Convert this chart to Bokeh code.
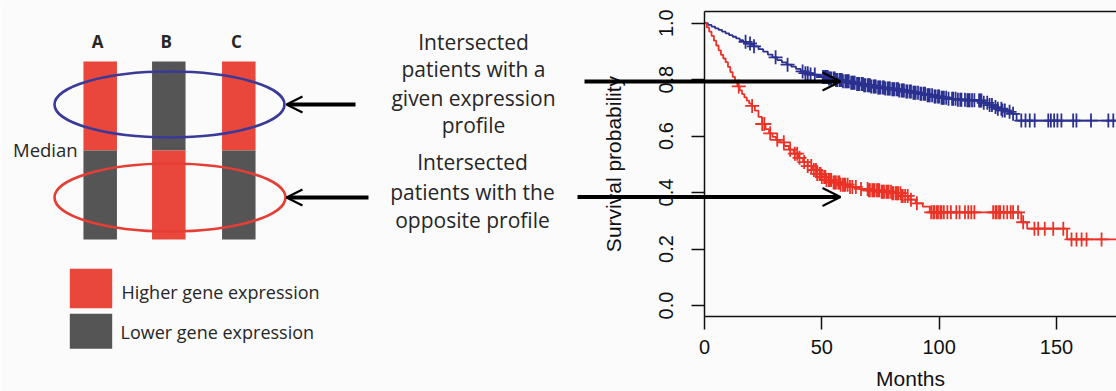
import numpy as np
from bokeh.plotting import figure
from bokeh.models import (Range1d, LinearAxis, FixedTicker, Arrow, OpenHead,
                          NumeralTickFormatter)
from bokeh.core.properties import value
from bokeh.embed import file_html
from bokeh.resources import INLINE

# ---------------- data ----------------
genes = ["A", "B", "C"]
given_profile = ["Higher", "Lower", "Higher"]          # level above the median line
legend_labels = ["Higher gene expression", "Lower gene expression"]
median_label = "Median"
group1_text = ["Intersected", "patients with a", "given expression", "profile"]
group2_text = ["Intersected", "patients with the", "opposite profile"]

# Kaplan-Meier: given profile (blue)
blue_time = [0, 1.5, 3, 4.5, 6, 7.5, 9, 10.5, 12, 13.5, 15, 16.5, 18, 19.5, 21, 23, 25, 27,
             29, 31, 33, 35, 37, 39, 41, 43, 45, 47.5, 50, 53, 56, 59, 62, 65, 68, 71, 74,
             77, 80, 83, 86, 89, 92, 95, 98, 101, 104, 108, 112, 116, 119, 121, 123, 125,
             127, 129, 131, 133, 180]
blue_surv = [1.0, 0.994, 0.988, 0.982, 0.976, 0.970, 0.964, 0.958, 0.952, 0.946, 0.940,
             0.934, 0.928, 0.923, 0.918, 0.908, 0.899, 0.889, 0.879, 0.869, 0.861, 0.853,
             0.846, 0.838, 0.829, 0.823, 0.818, 0.814, 0.809, 0.804, 0.799, 0.794, 0.789,
             0.785, 0.780, 0.776, 0.772, 0.769, 0.766, 0.762, 0.758, 0.754, 0.750, 0.745,
             0.740, 0.736, 0.732, 0.729, 0.727, 0.726, 0.718, 0.710, 0.703, 0.697, 0.691,
             0.686, 0.679, 0.655, 0.655]
blue_censor = [17.5, 19.4, 21.1, 30.3, 35.4, 41.8, 43, 44, 45.2, 47,
               50.5, 51, 51.5, 52, 52.5, 53, 53.5, 54, 55, 55.5, 56, 56.5, 57.5, 58, 58.5,
               59, 60, 60.5, 61, 61.5, 62.5, 63, 63.5, 64, 65, 65.5, 66, 67, 67.5, 68, 68.5,
               69.5, 70, 70.5, 71, 72, 72.5, 73, 74, 74.5, 75, 76, 76.5, 77, 78, 78.5, 79,
               80, 80.5, 81, 82, 82.5, 83, 84, 84.5, 85, 86, 86.5, 87.5, 88, 89, 89.5, 90,
               91, 92, 92.5, 93.5, 94, 95, 95.5, 96, 97, 98, 98.5, 99.5, 100, 101, 101.5,
               102, 103, 104, 105.5, 106, 107, 108, 109, 109.5, 111, 112, 112.5, 113, 114,
               115, 117, 117.5, 118, 119, 120.5, 121.5, 122.5, 124, 125, 126.5, 127, 128,
               130, 131.5,
               135, 136.8, 138.6, 140.7, 146.5, 147.6, 149, 150.4, 152.1, 157.1, 158.5,
               164.7, 172.1, 174.2]

# Kaplan-Meier: opposite profile (red)
red_time = [0, 1, 2, 3, 4, 5, 6, 7, 8, 9, 10, 11, 12, 13, 14, 15, 16, 17, 18, 19, 20, 21.5,
            23, 24.5, 26, 27.5, 29, 30.5, 32, 34, 36, 38, 40, 42, 44, 46, 48, 50, 52, 55,
            58, 62, 66, 70, 75, 80, 84, 87, 90, 93, 96, 135, 137.5, 154.5, 180]
red_surv = [1.0, 0.985, 0.970, 0.955, 0.938, 0.921, 0.904, 0.888, 0.875, 0.862, 0.845,
            0.827, 0.810, 0.792, 0.776, 0.762, 0.749, 0.737, 0.726, 0.716, 0.707, 0.690,
            0.668, 0.643, 0.625, 0.610, 0.597, 0.587, 0.578, 0.565, 0.552, 0.538, 0.523,
            0.508, 0.494, 0.480, 0.466, 0.455, 0.445, 0.436, 0.428, 0.420, 0.413, 0.408,
            0.403, 0.398, 0.388, 0.375, 0.362, 0.350, 0.330, 0.295, 0.272, 0.234, 0.234]
red_censor = [14.6, 20.3, 24.6, 25.5, 28, 31, 33.8, 36.5, 38.5, 39.5, 40.5, 42.5, 44, 45.5,
              46.6, 47.5, 48, 49, 49.5, 50, 51, 51.5, 52, 53, 53.5, 54, 55, 55.5, 56, 57,
              57.5, 58, 59, 59.5, 60, 61, 62, 63, 64.5, 66.7, 69.5, 70, 70.5, 71.5, 72,
              72.5, 73.5, 74, 74.5, 75.5, 76, 76.5, 77.5, 78, 78.5, 79.5, 80, 80.5, 81.5,
              82, 82.5, 83.5, 84, 84.5, 85.5, 86.6, 88, 90.5, 96.6, 97.5, 98, 99, 99.5,
              100.5, 101, 102, 103.5, 105, 107.3, 108.7, 111, 112.4, 113.7, 115, 123, 124,
              124.5, 125.5, 126, 127.5, 129, 130.5, 131.5, 133.6, 135.8, 140.6, 142.2, 145,
              148.6, 152.9, 156.4, 158.5, 160.7, 162.8, 169.2]

x_ticks = [0, 50, 100, 150]
y_ticks = [0.0, 0.2, 0.4, 0.6, 0.8, 1.0]
x_label = "Months"
y_label = "Survival probability"

# ---------------- style / layout ----------------
W, H = 1116, 391
BG = "#fbfbfc"
RED = "#e9463c"
GREY = "#555555"
ELL_BLUE = "#3a3a98"
ELL_RED = "#e53e35"
KM_BLUE = "#2b3190"
KM_RED = "#ec3226"
TXT = "#262626"
SANS = "Open Sans"
HELV = "Liberation Sans"

col_x = [99.7, 168.3, 238.3]
bar_w = 33.5
bar_top, bar_mid, bar_bot = 61, 150, 239

p = figure(width=W, height=H, output_backend="svg", toolbar_location=None,
           x_range=Range1d(0, W), y_range=Range1d(H, 0),
           x_axis_location=None, y_axis_location=None, min_border=0)
p.outline_line_color = None
p.background_fill_color = BG
p.border_fill_color = BG
p.grid.visible = False

# KM scales: months / survival probability
p.extra_x_ranges = {"months": Range1d(-300.0, 175.57)}
p.extra_y_ranges = {"prob": Range1d(-0.3046, 1.0804)}
y_lo, y_hi = -0.04, 1.04

# ---------- schematic ----------
up_col = [RED if g == "Higher" else GREY for g in given_profile]
lo_col = [GREY if g == "Higher" else RED for g in given_profile]
lefts = [c - bar_w / 2 for c in col_x]
rights = [c + bar_w / 2 for c in col_x]
p.quad(left=lefts, right=rights, top=[bar_top] * 3, bottom=[bar_mid] * 3,
       fill_color=up_col, line_color=None)
p.quad(left=lefts, right=rights, top=[bar_mid] * 3, bottom=[bar_bot] * 3,
       fill_color=lo_col, line_color=None)
p.text(x=[c - 2.5 for c in col_x], y=[40.5] * 3, text=genes, text_font=value(SANS),
       text_font_style="bold", text_font_size="17px", text_align="center",
       text_baseline="alphabetic", text_color=TXT)
p.text(x=[12.5], y=[149], text=[median_label], text_font=value(SANS),
       text_font_size="18.5px", text_align="left", text_baseline="alphabetic",
       text_color=TXT)

p.ellipse(x=[169], y=[104], width=[230], height=[66], fill_color=None,
          line_color=ELL_BLUE, line_width=2.6)
p.ellipse(x=[169.5], y=[197], width=[231], height=[68], fill_color=None,
          line_color=ELL_RED, line_width=2.6)

# legend
p.quad(left=[69.3, 69.3], right=[111.7, 111.7], top=[268.3, 313.3],
       bottom=[307.7, 348.3], fill_color=[RED, GREY], line_color=None)
p.text(x=[121, 120], y=[291.3, 331.3], text=legend_labels, text_font=value(SANS),
       text_font_size="18px", text_align="left", text_baseline="alphabetic",
       text_color=TXT)

# middle texts
p.text(x=[473] * 4, y=[41.5, 68, 97, 124.5], text=group1_text, text_font=value(SANS),
       text_font_size="21px", text_align="center", text_baseline="alphabetic",
       text_color=TXT)
p.text(x=[472] * 3, y=[161, 191, 219], text=group2_text, text_font=value(SANS),
       text_font_size="21px", text_align="center", text_baseline="alphabetic",
       text_color=TXT)

# ---------- KM curves ----------
for t, s, cen, col in [(blue_time, blue_surv, blue_censor, KM_BLUE),
                       (red_time, red_surv, red_censor, KM_RED)]:
    p.step(x=t, y=s, mode="after", line_color=col, line_width=1.8,
           x_range_name="months", y_range_name="prob")
    idx = np.searchsorted(np.array(t), np.array(cen), side="right") - 1
    cs = [s[i] for i in idx]
    p.scatter(x=cen, y=cs, marker="cross", size=14, line_color=col, line_width=1.8,
              x_range_name="months", y_range_name="prob")

# ---------- KM axes ----------
AX_COL = "#111111"
yax = LinearAxis(x_range_name="months", y_range_name="prob", fixed_location=0,
                 bounds=(y_lo, y_hi), ticker=FixedTicker(ticks=y_ticks),
                 formatter=NumeralTickFormatter(format="0.0"), axis_label=y_label)
xax = LinearAxis(x_range_name="months", y_range_name="prob", fixed_location=y_lo,
                 bounds=(0, 175.57), ticker=FixedTicker(ticks=x_ticks), axis_label=x_label)
top = LinearAxis(x_range_name="months", y_range_name="prob", fixed_location=y_hi,
                 bounds=(0, 175.57), ticker=FixedTicker(ticks=[]))
for ax in (yax, xax, top):
    ax.axis_line_color = AX_COL
    ax.axis_line_width = 1.5
    ax.major_tick_line_color = AX_COL
    ax.major_tick_line_width = 1.5
    ax.major_tick_out = 13
    ax.major_tick_in = 0
    ax.minor_tick_line_color = None
    ax.major_label_text_font = HELV
    ax.major_label_text_font_size = "20px"
    ax.major_label_text_color = AX_COL
    ax.axis_label_text_font = HELV
    ax.axis_label_text_font_size = "21px"
    ax.axis_label_text_font_style = "normal"
    ax.axis_label_text_color = AX_COL
top.major_tick_line_color = None
top.major_label_text_font_size = "0px"
yax.major_label_orientation = "vertical"
yax.major_label_standoff = 18
yax.axis_label_standoff = 32
xax.major_label_standoff = 10
xax.axis_label_standoff = 10
p.add_layout(yax, "left")
p.add_layout(xax, "below")
p.add_layout(top, "above")

# ---------- arrows ----------
def arrow(x0, x1, y, size, lw, hw):
    p.add_layout(Arrow(end=OpenHead(size=size, line_width=hw, line_color="black"),
                       x_start=x0, y_start=y, x_end=x1, y_end=y,
                       line_color="black", line_width=lw))

arrow(355, 286, 104, 16, 3.8, 2.2)
arrow(368, 286, 197, 16, 3.8, 2.2)
arrow(584, 840, 81, 18, 3.8, 2.0)
arrow(577, 840, 196.5, 18, 3.8, 2.0)

open("out.html", "w").write(file_html(p, INLINE))
